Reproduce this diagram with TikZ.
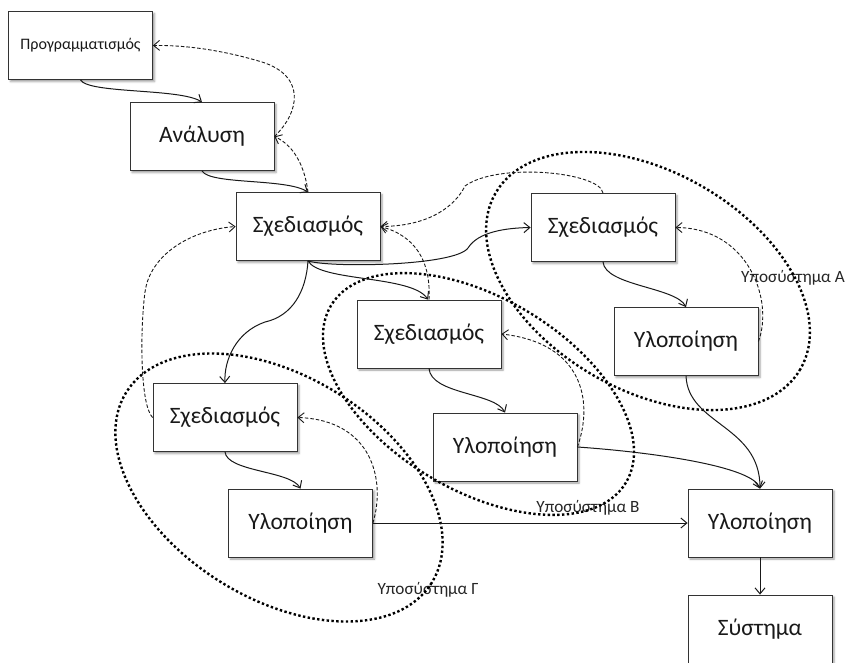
\documentclass[tikz,border=0pt]{standalone}
\usepackage{fontspec}
\setmainfont{Carlito}
\usetikzlibrary{arrows.meta,shadows.blur}
\begin{document}
\begin{tikzpicture}[x=1pt,y=-1pt,
  box/.style={draw=black!80, line width=0.8pt, fill=white, minimum width=144pt,
    minimum height=68pt, inner sep=0pt, text=black!90, font=\fontsize{23.5}{28}\selectfont,
    blur shadow={shadow xshift=2pt, shadow yshift=-2pt, shadow blur steps=4, shadow blur radius=2pt, shadow opacity=40}},
  smallbox/.style={box, font=\fontsize{16}{19}\selectfont},
  flow/.style={line width=1pt, black!90, -{Straight Barb[length=6pt,width=10pt]}},
  back/.style={line width=0.9pt, black!90, dash pattern=on 3.5pt off 2pt, -{Straight Barb[length=6pt,width=10pt]}},
  group/.style={line width=2.4pt, black, dash pattern=on 2.4pt off 2.4pt},
  lbl/.style={font=\fontsize{17.2}{21}\selectfont, text=black!85, inner sep=0pt}]
\useasboundingbox (0,0) rectangle (851,662);
% boxes
\node[smallbox] (prog) at (80.5,45.5) {Προγραμματισμός};
\node[box] (ana) at (202,136.5) {Ανάλυση};
\node[box] (s1) at (308,226.5) {Σχεδιασμός};
\node[box] (sa) at (603,227.5) {Σχεδιασμός};
\node[box] (ia) at (686,341.5) {Υλοποίηση};
\node[box] (sb) at (429,334) {Σχεδιασμός};
\node[box] (ib) at (505,447) {Υλοποίηση};
\node[box] (sc) at (225,417.5) {Σχεδιασμός};
\node[box] (ic) at (300.5,523) {Υλοποίηση};
\node[box] (im) at (760,523) {Υλοποίηση};
\node[box] (sys) at (760,629) {Σύστημα};
% labels
\node[lbl] (la) at (793,278) {Υποσύστημα Α};
\node[lbl] (lb) at (588,508) {Υποσύστημα Β};
\node[lbl] (lc) at (428,590) {Υποσύστημα Γ};
% ellipses
\draw[group, rotate around={-30:(648,281)}] (648,281) ellipse [x radius=176, y radius=109];
\draw[group, rotate around={-31:(478.5,394)}] (478.5,394) ellipse [x radius=172, y radius=96];
\draw[group, rotate around={-32:(279,487.5)}] (279,487.5) ellipse [x radius=180, y radius=111];
% solid flow
\draw[flow] (prog.south) .. controls +(8,14) and +(-22,-14) .. (ana.north);
\draw[flow] (ana.south) .. controls +(8,14) and +(-22,-14) .. (s1.north);
\draw[flow] (s1.south) .. controls (330,268) and (455,266) .. (468,248) .. controls (478,232) and (505,228) .. (sa.west);
\draw[flow] (s1.south) .. controls (320,282) and (412,275) .. ([xshift=-1pt]sb.north);
\draw[flow] (s1.south) .. controls (306,292) and (292,316) .. (265,322) .. controls (236,332) and (224,360) .. (sc.north);
\draw[flow] (sa.south) .. controls +(2,24) and +(-10,-20) .. (ia.north);
\draw[flow] (sb.south) .. controls +(2,26) and +(-10,-20) .. (ib.north);
\draw[flow] (sc.south) .. controls +(2,20) and +(-10,-18) .. (ic.north);
\draw[flow] (ia.south) .. controls (688,425) and (760,425) .. (im.north);
\draw[flow] (ib.east) .. controls (650,452) and (752,466) .. (im.north);
\draw[flow] (ic.east) -- (im.west);
\draw[flow] (im.south) -- (sys.north);
% dashed feedback
\draw[back] (ana.east) .. controls (300,112) and (306,76) .. (262,62) .. controls (222,50) and (185,45) .. (prog.east);
\draw[back] (s1.north) .. controls (305,168) and (295,146) .. (ana.east);
\draw[back] (sa.north) .. controls (600,172) and (498,162) .. (465,186) .. controls (455,206) and (430,226) .. (s1.east);
\draw[back] (sb.north) .. controls (431,262) and (416,236) .. (s1.east);
\draw[back] (ia.east) .. controls (774,300) and (748,228) .. (sa.east);
\draw[back] (ib.east) .. controls (594,400) and (582,343) .. (sb.east);
\draw[back] (ic.east) .. controls (386,480) and (372,420) .. (sc.east);
\draw[back] (sc.west) .. controls (140,405) and (140,330) .. (145,292) .. controls (150,255) and (190,230) .. (s1.west);
\end{tikzpicture}
\end{document}
